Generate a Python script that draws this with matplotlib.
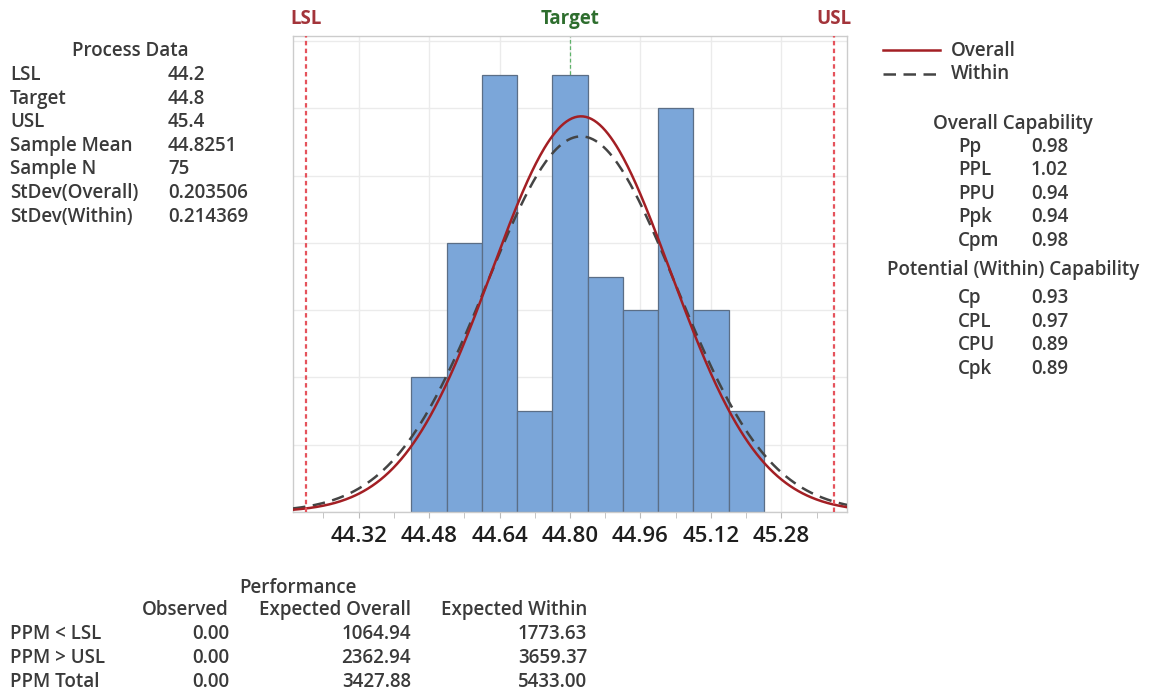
import numpy as np
import matplotlib
matplotlib.use("Agg")
import matplotlib.pyplot as plt

plt.rcParams['font.family'] = ['Open Sans', 'DejaVu Sans']

# ---- data ----
bin_edges = [44.44, 44.52, 44.60, 44.68, 44.76, 44.84, 44.92, 45.00, 45.08, 45.16, 45.24]
counts = [4, 8, 13, 3, 13, 7, 6, 12, 6, 3]
LSL, TARGET, USL = 44.2, 44.8, 45.4
mean = 44.8251
n = 75
sd_overall = 0.203506
sd_within = 0.214369

x_ticks = [44.32, 44.48, 44.64, 44.80, 44.96, 45.12, 45.28]
x_tick_labels = ["44.32", "44.48", "44.64", "44.80", "44.96", "45.12", "45.28"]

process_labels = ["LSL", "Target", "USL", "Sample Mean", "Sample N", "StDev(Overall)", "StDev(Within)"]
process_values = ["44.2", "44.8", "45.4", "44.8251", "75", "0.203506", "0.214369"]

overall_labels = ["Pp", "PPL", "PPU", "Ppk", "Cpm"]
overall_values = ["0.98", "1.02", "0.94", "0.94", "0.98"]
within_labels = ["Cp", "CPL", "CPU", "Cpk"]
within_values = ["0.93", "0.97", "0.89", "0.89"]

perf_cols = ["Observed", "Expected Overall", "Expected Within"]
perf_rows = ["PPM < LSL", "PPM > USL", "PPM Total"]
perf_observed = ["0.00", "0.00", "0.00"]
perf_exp_overall = ["1064.94", "2362.94", "3427.88"]
perf_exp_within = ["1773.63", "3659.37", "5433.00"]

# ---- style ----
TXT = "#3a3a3a"
BAR = "#7ba6d9"
BAR_EDGE = "#5b6e86"
RED = "#a31f24"
GRAY = "#444444"
SPEC = "#e5535c"
GREEN = "#2e6e2e"
FS = 13.5
FW = 600

W, H = 1149, 692
fig = plt.figure(figsize=(W / 100, H / 100), dpi=100)

def fx(px):
    return px / W

def fy(py):
    return 1 - py / H

ax = fig.add_axes([fx(293), fy(512), fx(847) - fx(293), fy(36) - fy(512)])
xmin, xmax = 44.171, 45.429
ax.set_xlim(xmin, xmax)
ax.set_ylim(0, 14.15)

widths = np.diff(bin_edges)
ax.bar(bin_edges[:-1], counts, width=widths, align='edge', color=BAR,
       edgecolor=BAR_EDGE, linewidth=0.9, zorder=2)

binw = bin_edges[1] - bin_edges[0]
xs = np.linspace(xmin, xmax, 400)
def npdf(x, m, s):
    return np.exp(-0.5 * ((x - m) / s) ** 2) / (s * np.sqrt(2 * np.pi))
ax.plot(xs, n * binw * npdf(xs, mean, sd_within), color=GRAY, lw=1.8,
        ls=(0, (5, 3)), zorder=3)
ax.plot(xs, n * binw * npdf(xs, mean, sd_overall), color=RED, lw=1.8, zorder=4)

ax.axvline(LSL, color=SPEC, lw=1.6, ls=(0, (2, 1.5)), zorder=5)
ax.axvline(USL, color=SPEC, lw=1.6, ls=(0, (2, 1.5)), zorder=5)
ax.axvline(TARGET, color="#5fb36a", lw=0.9, ls=(0, (3, 2)), zorder=1)

ax.set_yticks(np.arange(0, 15, 2))
ax.tick_params(axis='y', length=0, labelleft=False)
ax.set_xticks(x_ticks)
ax.set_xticklabels(x_tick_labels, fontsize=16, color="#1e1e1e", fontweight=FW)
ax.set_xticks([44.24] + list(np.array(x_ticks) + 0.08), minor=True)
ax.tick_params(axis='x', which='both', length=4, color="#bbbbbb", pad=6)
ax.grid(True, which='major', color="#ebebeb", lw=1.0, zorder=0)
ax.set_axisbelow(True)
for s in ax.spines.values():
    s.set_color("#cccccc")
    s.set_linewidth(1.0)

# top labels
for val, lab, col in [(LSL, "LSL", "#a3343a"), (TARGET, "Target", GREEN), (USL, "USL", "#a3343a")]:
    ax.text(val, 1.0 + 17 / 476, lab, transform=ax.get_xaxis_transform(),
            ha='center', va='center', fontsize=13.5, color=col, fontweight='bold')

def t(px, py, s, ha='left', **kw):
    fig.text(fx(px), fy(py), s, ha=ha, va='center', fontsize=FS, color=TXT,
             fontweight=FW, **kw)

# Process data
t(130, 51, "Process Data", ha='center')
for i, (l, v) in enumerate(zip(process_labels, process_values)):
    y = 75 + i * 23.6
    t(10, y, l)
    t(168, y, v)

# Legend
fig.add_artist(plt.Line2D([fx(883), fx(940)], [fy(50), fy(50)], color=RED, lw=1.8))
fig.add_artist(plt.Line2D([fx(883), fx(940)], [fy(74), fy(74)], color=GRAY, lw=1.8, ls=(0, (5, 3))))
t(951, 51, "Overall")
t(951, 74, "Within")

t(1013, 124, "Overall Capability", ha='center')
for i, (l, v) in enumerate(zip(overall_labels, overall_values)):
    y = 147 + i * 23.4
    t(958, y, l)
    t(1031, y, v)
t(1013, 270, "Potential (Within) Capability", ha='center')
for i, (l, v) in enumerate(zip(within_labels, within_values)):
    y = 298 + i * 23.6
    t(958, y, l)
    t(1031, y, v)

# Performance
t(298, 588, "Performance", ha='center')
col_x = [229, 411, 587]
for cx, c in zip(col_x, perf_cols):
    t(cx, 610, c, ha='right')
for i, r in enumerate(perf_rows):
    y = 634 + i * 24
    t(10, y, r)
    t(col_x[0], y, perf_observed[i], ha='right')
    t(col_x[1], y, perf_exp_overall[i], ha='right')
    t(col_x[2], y, perf_exp_within[i], ha='right')

fig.savefig("out.png", dpi=100)
